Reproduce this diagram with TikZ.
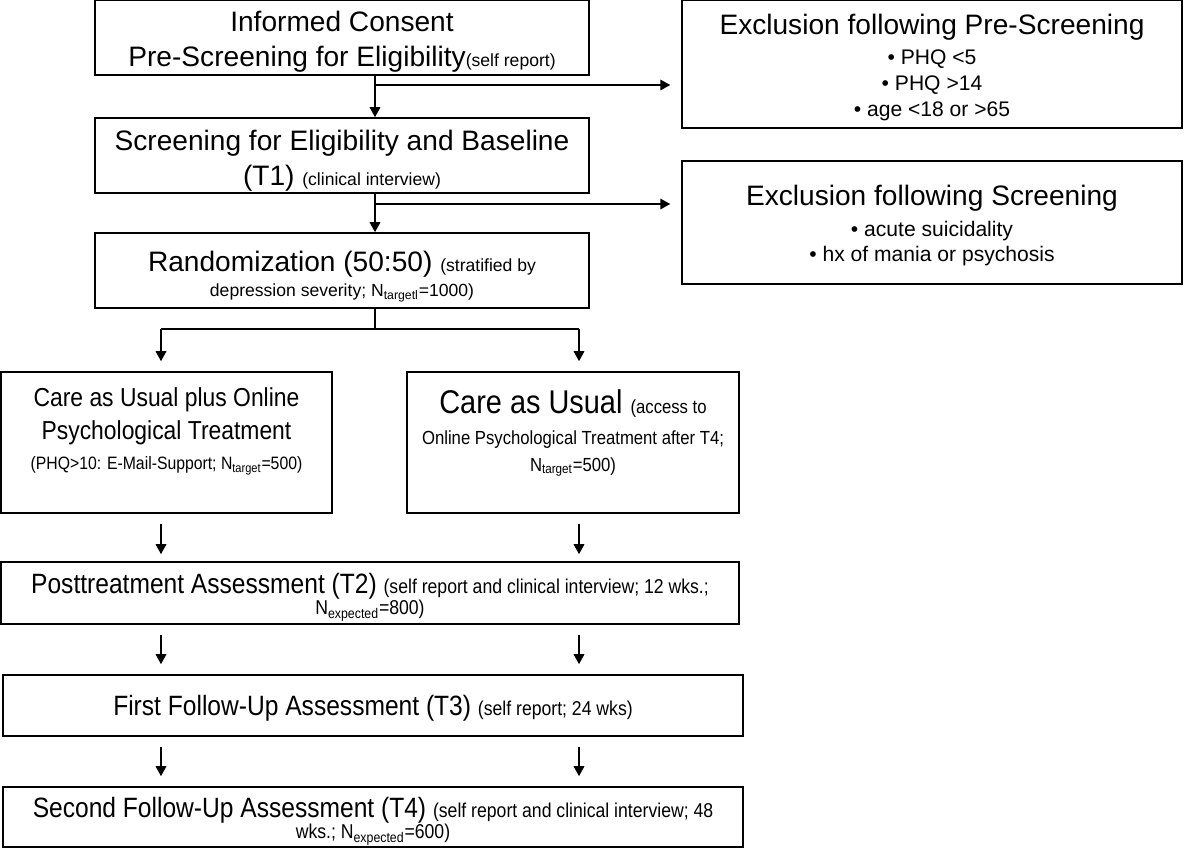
\documentclass[tikz,border=0pt]{standalone}
\usepackage{fontspec}
\setmainfont{Liberation Sans}
\newfontfamily\lowfont{Liberation Sans}[FakeStretch=0.88]
\usetikzlibrary{arrows.meta}

\newcommand{\mainfs}{\fontsize{16}{20}\selectfont}
\newcommand{\smallfs}{\fontsize{10}{12}\selectfont}
\newcommand{\bulletfs}{\fontsize{12}{15}\selectfont}
\newcommand{\lowsmallfs}{\fontsize{11.4}{13}\selectfont}
% struts to move text inside its box
\newcommand{\padtop}[1]{\rule{0pt}{#1}}
\newcommand{\padbot}[1]{\rule[-#1]{0pt}{#1}}

\begin{document}
\begin{tikzpicture}[x=0.02cm, y=-0.02cm,
    stagebox/.style={draw, line width=0.9pt, align=center, inner xsep=2pt, inner ysep=0pt},
    flow/.style={line width=0.9pt, -{Triangle[length=5.7pt, width=6pt]}}]
      \useasboundingbox (0,0) rectangle (1200,848);

      % main column
      \node[stagebox, minimum width=9.88cm, minimum height=1.5cm, font=\mainfs] (consent) at (342,37.5)
        {\padtop{16.2pt}Informed Consent\\Pre-Screening for Eligibility{\smallfs(self report)}};
      \node[stagebox, minimum width=9.88cm, minimum height=1.5cm, font=\mainfs] (screen) at (342,155.5)
        {\padtop{17.4pt}Screening for Eligibility and Baseline\\(T1) {\smallfs (clinical interview)}};
      \node[stagebox, minimum width=9.88cm, minimum height=1.5cm, font=\mainfs] (rand) at (342,270.5)
        {\padtop{18.5pt}Randomization (50:50) {\smallfs (stratified by}\\[-6pt]{\smallfs depression severity; N\textsubscript{targetl}=1000)}};

      % exclusions
      \node[stagebox, minimum width=10cm, minimum height=2.56cm, font=\fontsize{16}{15}\selectfont] (excl1) at (932,64)
        {\padtop{15.7pt}Exclusion following Pre-Screening\\[2pt]{\bulletfs \textbullet\ PHQ <5}\\{\bulletfs \textbullet\ PHQ >14}\\{\bulletfs \textbullet\ age <18 or >65}};
      \node[stagebox, minimum width=10cm, minimum height=2.46cm, font=\fontsize{16}{14.5}\selectfont] (excl2) at (932,222.5)
        {\padtop{15.2pt}Exclusion following Screening\\[3pt]{\bulletfs \textbullet\ acute suicidality}\\{\bulletfs \textbullet\ hx of mania or psychosis}};

      % study arms
      \node[stagebox, minimum width=6.62cm, minimum height=2.82cm, font=\lowfont\fontsize{14.8}{18.5}\selectfont] (armL) at (166.5,442.5)
        {Care as Usual plus Online\\Psychological Treatment\\[-1pt]{\fontsize{10.2}{12}\selectfont (PHQ>10: E-Mail-Support; N\textsubscript{target}=500)\padbot{15.5pt}}};
      \node[stagebox, minimum width=6.64cm, minimum height=2.82cm, font=\lowfont\fontsize{18.7}{19}\selectfont] (armR) at (573,442.5)
        {Care as Usual {\fontsize{10.8}{12}\selectfont (access to}\\[-1pt]{\fontsize{10.8}{12}\selectfont Online Psychological Treatment after T4;}\\[-4pt]{\fontsize{10.8}{12}\selectfont N\textsubscript{target}=500)\padbot{14pt}}};

      % assessments
      \node[stagebox, minimum width=14.76cm, minimum height=1.24cm, font=\lowfont\fontsize{15.9}{17}\selectfont] (post) at (370,593)
        {\padtop{16.2pt}Posttreatment Assessment (T2) {\lowsmallfs (self report and clinical interview; 12 wks.;}\\[-5pt]{\lowsmallfs N\textsubscript{expected}=800)}};
      \node[stagebox, minimum width=14.8cm, minimum height=1.22cm, font=\lowfont\fontsize{15.9}{17}\selectfont] (fu1) at (373,705.5)
        {\padtop{15pt}First Follow-Up Assessment (T3) {\lowsmallfs (self report; 24 wks)}};
      \node[stagebox, minimum width=14.8cm, minimum height=1.2cm, font=\lowfont\fontsize{15.9}{17}\selectfont] (fu2) at (373,817)
        {\padtop{16.2pt}Second Follow-Up Assessment (T4) {\lowsmallfs (self report and clinical interview; 48}\\[-5pt]{\lowsmallfs wks.; N\textsubscript{expected}=600)}};

      \coordinate (spine) at (375,0);
      \coordinate (exit1) at (375,85);
      \coordinate (exit2) at (375,204);
      \coordinate (split) at (375,329);
      \coordinate (colL) at (161,329);
      \coordinate (colR) at (579,329);

      \draw[flow] (consent.south -| spine) -- (screen.north -| spine);
      \draw[flow] (screen.south -| spine) -- (rand.north -| spine);
      \draw[flow] (exit1) -- ([xshift=-0.22cm]excl1.west |- exit1);
      \draw[flow] (exit2) -- ([xshift=-0.22cm]excl2.west |- exit2);

      \draw[line width=0.9pt] (rand.south -| spine) -- (split);
      \draw[line width=0.9pt] (colL) -- (colR);
      \draw[flow, shorten >=0.2cm] (colL) -- (colL |- armL.north);
      \draw[flow, shorten >=0.2cm] (colR) -- (colR |- armR.north);

      \draw[flow, shorten <=0.2cm, shorten >=0.14cm] (armL.south -| colL) -- (post.north -| colL);
      \draw[flow, shorten <=0.2cm, shorten >=0.14cm] (armR.south -| colR) -- (post.north -| colR);
      \draw[flow, shorten <=0.2cm, shorten >=0.2cm] (post.south -| colL) -- (fu1.north -| colL);
      \draw[flow, shorten <=0.2cm, shorten >=0.2cm] (post.south -| colR) -- (fu1.north -| colR);
      \draw[flow, shorten <=0.2cm, shorten >=0.2cm] (fu1.south -| colL) -- (fu2.north -| colL);
      \draw[flow, shorten <=0.2cm, shorten >=0.2cm] (fu1.south -| colR) -- (fu2.north -| colR);

    \end{tikzpicture}
\end{document}
